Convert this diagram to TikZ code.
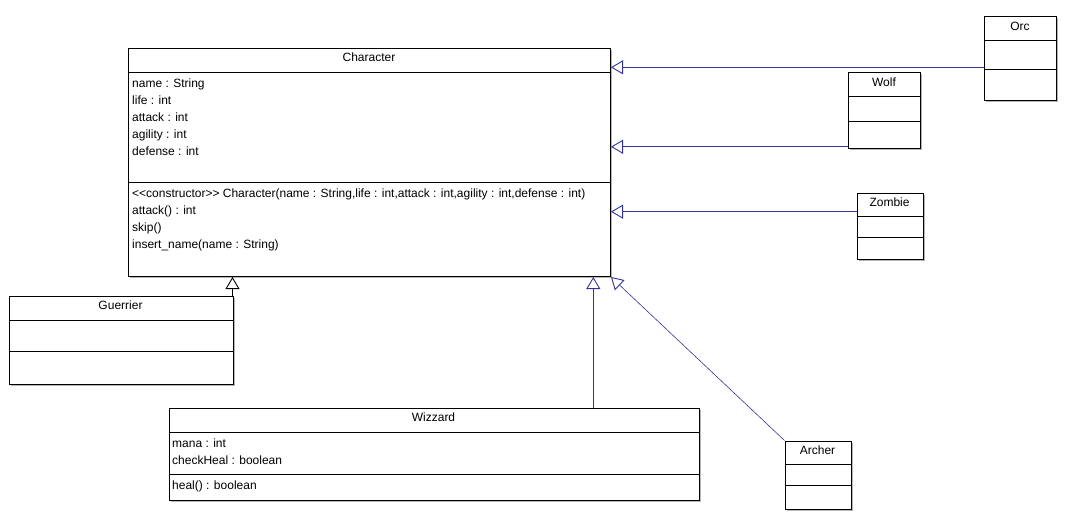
\documentclass[tikz,border=0pt]{standalone}
\usepackage{fontspec}
\setmainfont{Liberation Sans}
\usetikzlibrary{arrows.meta,shadows}
\definecolor{linkblue}{RGB}{51,51,153}
\tikzset{
  cls/.style={draw=black, line width=1pt, fill=white, inner sep=0pt, anchor=north west,
    drop shadow={shadow xshift=1.5pt, shadow yshift=-1.5pt, fill=black!35, opacity=0.8}},
  sep/.style={draw=black, line width=1pt},
  ttl/.style={anchor=base, inner sep=0pt, font=\fontsize{12}{14}\selectfont},
  mem/.style={anchor=base west, inner sep=0pt, font=\fontsize{12}{14}\selectfont},
  inh/.style={draw=linkblue, line width=0.9pt, -{Triangle[open, length=12pt, width=14pt, line width=0.9pt]}},
  inhblack/.style={inh, draw=black}
}
\begin{document}
\begin{tikzpicture}[x=1pt, y=-1pt]
\useasboundingbox[fill=white] (0,0) rectangle (1086,530);

% Character
\node[cls, minimum width=482pt, minimum height=228pt] (character) at (128,48) {};
\draw[sep] (128,72) -- (610,72);
\draw[sep] (128,182) -- (610,182);
\node[ttl] (tchar) at (369,61.6) {Character};
\node[mem] (c1) at (132,87) {name : String};
\node[mem] (c2) at (132,104) {life : int};
\node[mem] (c3) at (132,121) {attack : int};
\node[mem] (c4) at (132,138) {agility : int};
\node[mem] (c5) at (132,155) {defense : int};
\node[mem] (m1) at (132,197.5) {<{}<constructor>{}> Character(name : String,life : int,attack : int,agility : int,defense : int)};
\node[mem] (m2) at (132,214.5) {attack() : int};
\node[mem] (m3) at (132,231.5) {skip()};
\node[mem] (m4) at (132,248.5) {insert\_name(name : String)};

% Orc
\node[cls, minimum width=72pt, minimum height=84pt] (orc) at (984,16) {};
\draw[sep] (984,40) -- (1056,40);
\draw[sep] (984,69) -- (1056,69);
\node[ttl] (torc) at (1020,30.3) {Orc};

% Wolf
\node[cls, minimum width=72pt, minimum height=76pt] (wolf) at (848,72) {};
\draw[sep] (848,96) -- (920,96);
\draw[sep] (848,121) -- (920,121);
\node[ttl] (twolf) at (884,86) {Wolf};

% Zombie
\node[cls, minimum width=66pt, minimum height=66pt] (zombie) at (856.5,193) {};
\draw[sep] (856.5,216) -- (922.5,216);
\draw[sep] (856.5,237.5) -- (922.5,237.5);
\node[ttl] (tzombie) at (889.5,206) {Zombie};

% Guerrier
\node[cls, minimum width=224pt, minimum height=88pt] (guerrier) at (8.5,296) {};
\draw[sep] (8.5,320.5) -- (232.5,320.5);
\draw[sep] (8.5,351) -- (232.5,351);
\node[ttl] (tguerrier) at (120.5,309.3) {Guerrier};

% Wizzard
\node[cls, minimum width=530pt, minimum height=92pt] (wizzard) at (168.5,408.3) {};
\draw[sep] (168.5,432.3) -- (698.5,432.3);
\draw[sep] (168.5,474.5) -- (698.5,474.5);
\node[ttl] (twizzard) at (433.5,421.8) {Wizzard};
\node[mem] (w1) at (172,447) {mana : int};
\node[mem] (w2) at (172,464.5) {checkHeal : boolean};
\node[mem] (w3) at (172,489) {heal() : boolean};

% Archer
\node[cls, minimum width=66pt, minimum height=68pt] (archer) at (784.5,440.5) {};
\draw[sep] (784.5,464.3) -- (850.5,464.3);
\draw[sep] (784.5,485.7) -- (850.5,485.7);
\node[ttl] (tarcher) at (817.5,454.5) {Archer};

% Generalisations
\draw[inh] (orc.west |- 0,67.3) -- (character.east |- 0,67.3);
\draw[inh] (wolf.west |- 0,146.8) -- (character.east |- 0,146.8);
\draw[inh] (zombie.west |- 0,211.7) -- (character.east |- 0,211.7);
\draw[inhblack] (guerrier.north east) ++(-1,0) coordinate (gtop) -- (gtop |- character.south);
\draw[inh] (wizzard.north -| 593.3,0) -- (character.south -| 593.3,0);
\draw[inh, line width=0.6pt] (archer.north west) -- (character.south east);
\end{tikzpicture}
\end{document}
